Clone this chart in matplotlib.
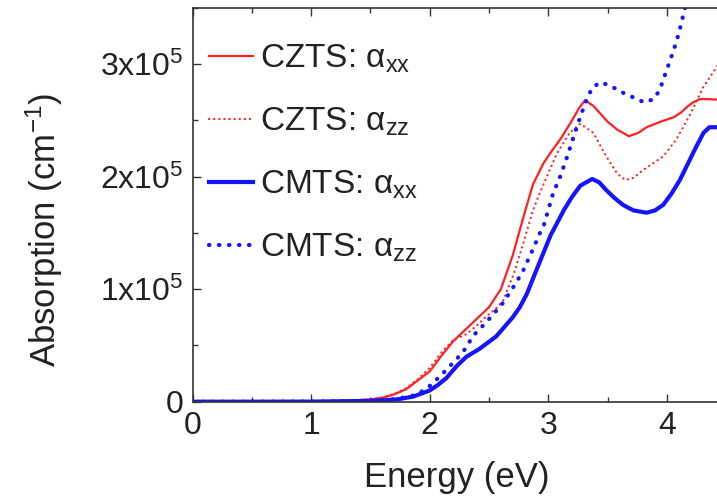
import matplotlib
matplotlib.use("Agg")
import matplotlib.pyplot as plt
from matplotlib.ticker import MultipleLocator, FixedLocator, FixedFormatter

plt.rcParams['font.family'] = ['Liberation Sans', 'DejaVu Sans']
plt.rcParams['mathtext.fontset'] = 'custom'
plt.rcParams['mathtext.rm'] = 'Liberation Sans'
plt.rcParams['mathtext.it'] = 'Liberation Sans:italic'
plt.rcParams['mathtext.bf'] = 'Liberation Sans:bold'

# Energy (eV) and absorption (units of 1e5 cm^-1)
czts_xx_x = [0, 0.5, 1.0, 1.3, 1.5, 1.6, 1.7, 1.8, 1.9, 2.0, 2.1, 2.2, 2.3, 2.4, 2.5, 2.6, 2.7,
             2.79, 2.87, 2.96, 3.03, 3.1, 3.2, 3.26, 3.31, 3.38, 3.44, 3.5, 3.58, 3.68, 3.76,
             3.83, 3.95, 4.06, 4.12, 4.17, 4.22, 4.28, 4.35, 4.5]
czts_xx_y = [0, 0, 0.002, 0.008, 0.02, 0.035, 0.065, 0.11, 0.19, 0.27, 0.41, 0.54, 0.64, 0.74,
             0.84, 1.0, 1.30, 1.64, 1.93, 2.12, 2.23, 2.33, 2.50, 2.61, 2.68, 2.63, 2.56, 2.49,
             2.42, 2.36, 2.39, 2.44, 2.49, 2.53, 2.57, 2.62, 2.66, 2.69, 2.69, 2.68]

czts_zz_x = [0, 0.5, 1.0, 1.3, 1.5, 1.6, 1.7, 1.8, 1.9, 2.0, 2.1, 2.2, 2.31, 2.4, 2.48, 2.57,
             2.62, 2.71, 2.79, 2.87, 2.93, 3.0, 3.07, 3.18, 3.27, 3.38, 3.49, 3.58, 3.65, 3.72,
             3.80, 3.97, 4.08, 4.2, 4.31, 4.5]
czts_zz_y = [0, 0, 0.002, 0.008, 0.02, 0.037, 0.07, 0.12, 0.20, 0.30, 0.44, 0.55, 0.60, 0.68,
             0.76, 0.84, 0.90, 1.14, 1.41, 1.70, 1.86, 2.03, 2.20, 2.39, 2.47, 2.39, 2.18, 2.03,
             1.97, 1.99, 2.06, 2.18, 2.33, 2.56, 2.80, 3.10]

cmts_xx_x = [0, 0.5, 1.0, 1.3, 1.5, 1.6, 1.72, 1.86, 2.0, 2.07, 2.14, 2.23, 2.31, 2.42, 2.56,
             2.7, 2.76, 2.82, 2.9, 3.02, 3.13, 3.2, 3.27, 3.37, 3.43, 3.49, 3.56, 3.63, 3.72,
             3.83, 3.9, 3.97, 4.04, 4.11, 4.18, 4.25, 4.31, 4.36, 4.5]
cmts_xx_y = [0, 0, 0.001, 0.004, 0.008, 0.012, 0.02, 0.045, 0.10, 0.15, 0.21, 0.32, 0.40, 0.47,
             0.58, 0.75, 0.84, 0.96, 1.17, 1.48, 1.70, 1.82, 1.92, 1.98, 1.95, 1.88, 1.81, 1.75,
             1.70, 1.68, 1.70, 1.75, 1.85, 1.97, 2.12, 2.27, 2.39, 2.44, 2.44]

cmts_zz_x = [0, 0.5, 1.0, 1.3, 1.5, 1.6, 1.72, 1.86, 1.95, 2.0, 2.1, 2.2, 2.28, 2.37, 2.48,
             2.62, 2.73, 2.79, 2.86, 2.93, 2.96, 3.04, 3.1, 3.16, 3.24, 3.31, 3.37, 3.44, 3.52,
             3.59, 3.66, 3.73, 3.81, 3.89, 3.94, 4.0, 4.06, 4.10, 4.14, 4.2]
cmts_zz_y = [0, 0, 0.001, 0.004, 0.008, 0.013, 0.025, 0.055, 0.10, 0.14, 0.24, 0.35, 0.44,
             0.59, 0.71, 0.88, 1.06, 1.17, 1.33, 1.50, 1.56, 1.85, 2.0, 2.18, 2.44, 2.65, 2.79,
             2.84, 2.81, 2.77, 2.73, 2.70, 2.66, 2.69, 2.77, 2.95, 3.13, 3.27, 3.44, 3.7]

labels = ['CZTS: α$_{\\mathrm{xx}}$', 'CZTS: α$_{\\mathrm{zz}}$',
          'CMTS: α$_{\\mathrm{xx}}$', 'CMTS: α$_{\\mathrm{zz}}$']

scale = 1e5
red = '#ff2020'
blue = '#1414ff'

fig = plt.figure(figsize=(7.17, 4.99), dpi=100)
ax = fig.add_axes([0.2688, 0.195, 0.7438, 0.789])

ax.plot(czts_xx_x, [v * scale for v in czts_xx_y], color=red, lw=1.6, label=labels[0])
ax.plot(czts_zz_x, [v * scale for v in czts_zz_y], color=red, lw=1.6,
        linestyle=(0, (0.1, 2.2)), dash_capstyle='round', label=labels[1])
ax.plot(cmts_xx_x, [v * scale for v in cmts_xx_y], color=blue, lw=3.0, label=labels[2])
ax.plot(cmts_zz_x, [v * scale for v in cmts_zz_y], color=blue, lw=3.0,
        linestyle=(0, (0.1, 2.3)), dash_capstyle='round', label=labels[3])

ax.set_xlim(0, 4.5)
ax.set_ylim(0, 3.5e5)

ax.xaxis.set_major_locator(MultipleLocator(1))
ax.xaxis.set_minor_locator(MultipleLocator(0.5))
yticks = [0, 1e5, 2e5, 3e5]
ytick_labels = ['0', '1x10$^5$', '2x10$^5$', '3x10$^5$']
ax.yaxis.set_major_locator(FixedLocator(yticks))
ax.yaxis.set_major_formatter(FixedFormatter(ytick_labels))
ax.yaxis.set_minor_locator(MultipleLocator(0.5e5))

ax.tick_params(which='both', direction='in', top=True, right=True, colors='#333333',
               labelcolor='#222222', labelsize=23)
ax.tick_params(which='major', length=6, width=1.0)
ax.tick_params(which='minor', length=3.5, width=1.0)
ax.tick_params(axis='x', pad=7)
ax.tick_params(axis='y', pad=7)
for s in ax.spines.values():
    s.set_color('#333333')
    s.set_linewidth(1.2)

ax.set_xlabel('Energy (eV)', fontsize=25, color='#222222')
ax.xaxis.set_label_coords(0.496, -0.150)
ax.set_ylabel('Absorption (cm$^{-1}$)', fontsize=25, color='#222222')
ax.yaxis.set_label_coords(-0.240, 0.436)

leg = ax.legend(loc='upper left', bbox_to_anchor=(0.030, 0.912), frameon=False, fontsize=24,
                handlelength=1.32, handletextpad=0.22, labelspacing=0.92, borderpad=0,
                borderaxespad=0)
for t in leg.get_texts():
    t.set_color('#222222')

fig.savefig('out.png', dpi=100)
